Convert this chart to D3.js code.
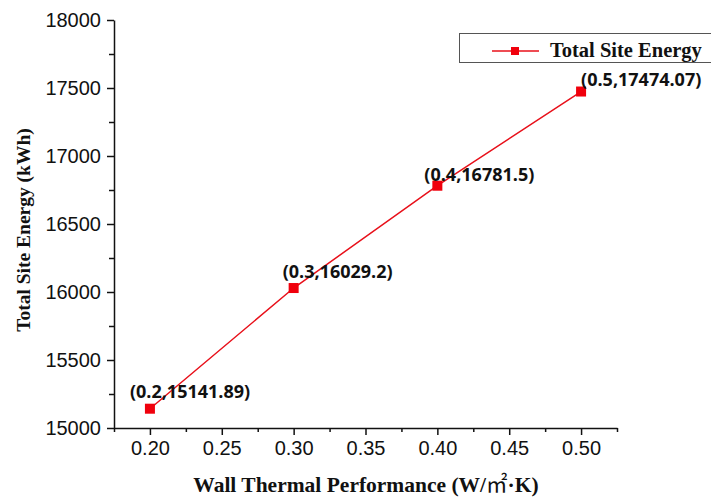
<!DOCTYPE html>
<html>
<head>
<meta charset="utf-8">
<script src="https://cdn.jsdelivr.net/npm/d3@7"></script>
<style>
  body { margin: 0; background: #fff; }
  svg { display: block; }
</style>
</head>
<body>
<div id="chart"></div>
<script>
// values
var wallU = [0.2, 0.3, 0.4, 0.5];
var siteEnergy = [15141.89, 16029.2, 16781.5, 17474.07];
var pointLabels = ['(0.2,15141.89)', '(0.3,16029.2)', '(0.4,16781.5)', '(0.5,17474.07)'];
var xTicks = [0.20, 0.25, 0.30, 0.35, 0.40, 0.45, 0.50];
var yTicks = [15000, 15500, 16000, 16500, 17000, 17500, 18000];

// label nudges relative to each point (dx, dy)
var labelShift = [[-20, -11], [-11, -10], [-13, -5], [0, -6]];

var width = 711, height = 498;

var svg = d3.select('#chart').append('svg')
    .attr('width', width)
    .attr('height', height);

var x = d3.scaleLinear().domain([0.175, 0.525]).range([114, 617]);
var y = d3.scaleLinear().domain([15000, 18000]).range([428, 20]);

var xMinor = xTicks.map(function(d) { return d - 0.025; }).concat([0.525]);
var yMinor = yTicks.slice(1).map(function(d) { return d - 250; });

var tickFont = '"Liberation Sans", Arial, sans-serif';
var serif = '"Liberation Serif", "Times New Roman", serif';

// x axis
var gx = svg.append('g').attr('transform', 'translate(0,428)');
gx.call(d3.axisBottom(x).tickValues(xTicks).tickSize(7).tickSizeOuter(0)
    .tickFormat(d3.format('.2f')));
gx.append('g').call(d3.axisBottom(x).tickValues(xMinor).tickSize(4).tickFormat(''))
  .select('.domain').remove();

// y axis
var gy = svg.append('g').attr('transform', 'translate(114,0)');
gy.call(d3.axisLeft(y).tickValues(yTicks).tickSize(7).tickSizeOuter(0)
    .tickFormat(d3.format('d')));
gy.append('g').call(d3.axisLeft(y).tickValues(yMinor).tickSize(5).tickFormat(''))
  .select('.domain').remove();

svg.selectAll('.domain, .tick line').attr('stroke', '#111').attr('stroke-width', 1.5);
gx.selectAll('.tick text').attr('font-family', tickFont).attr('font-size', 20)
  .attr('fill', '#111').attr('dy', '0.75em').attr('y', 12);
gy.selectAll('.tick text').attr('font-family', tickFont).attr('font-size', 20)
  .attr('fill', '#111').attr('x', -13);

// axis titles
var xt = svg.append('text')
    .attr('x', 366).attr('y', 492)
    .attr('text-anchor', 'middle')
    .attr('font-family', serif).attr('font-weight', 'bold').attr('font-size', 21.5)
    .attr('fill', '#111');
xt.append('tspan').text('Wall Thermal Performance (W/');
xt.append('tspan').attr('font-family', '"Noto Sans CJK SC", sans-serif').attr('font-weight', 'normal').text('㎡');
xt.append('tspan').text('·K)');

svg.append('text')
    .attr('transform', 'translate(30,230) rotate(-90)')
    .attr('text-anchor', 'middle')
    .attr('font-family', serif).attr('font-weight', 'bold').attr('font-size', 19.5)
    .attr('fill', '#111')
    .text('Total Site Energy (kWh)');

// series
var pts = wallU.map(function(d, i) { return [d, siteEnergy[i]]; });

svg.append('path')
    .datum(pts)
    .attr('fill', 'none')
    .attr('stroke', '#e8101a')
    .attr('stroke-width', 1.5)
    .attr('d', d3.line().x(function(d) { return x(d[0]); }).y(function(d) { return y(d[1]); }));

svg.selectAll('rect.pt').data(pts).enter().append('rect')
    .attr('class', 'pt')
    .attr('x', function(d) { return x(d[0]) - 5; })
    .attr('y', function(d) { return y(d[1]) - 5; })
    .attr('width', 10).attr('height', 10)
    .attr('fill', '#f0000c');

svg.selectAll('text.lbl').data(pts).enter().append('text')
    .attr('class', 'lbl')
    .attr('x', function(d, i) { return x(d[0]) + labelShift[i][0]; })
    .attr('y', function(d, i) { return y(d[1]) + labelShift[i][1]; })
    .attr('font-family', '"Open Sans", sans-serif')
    .attr('font-weight', 'bold').attr('font-size', 18)
    .attr('fill', '#111')
    .text(function(d, i) { return pointLabels[i]; });

// legend
var lg = svg.append('g');
lg.append('rect')
    .attr('x', 459.5).attr('y', 33.5).attr('width', 300).attr('height', 29)
    .attr('fill', '#fff').attr('stroke', '#555').attr('stroke-width', 1);
lg.append('line')
    .attr('x1', 492).attr('x2', 539).attr('y1', 51).attr('y2', 51)
    .attr('stroke', '#e8101a').attr('stroke-width', 1.5);
lg.append('rect')
    .attr('x', 511).attr('y', 47).attr('width', 8).attr('height', 8)
    .attr('fill', '#f0000c');
lg.append('text')
    .attr('x', 550).attr('y', 57)
    .attr('font-family', serif).attr('font-weight', 'bold').attr('font-size', 20.5)
    .attr('fill', '#111')
    .text('Total Site Energy');
</script>
</body>
</html>
